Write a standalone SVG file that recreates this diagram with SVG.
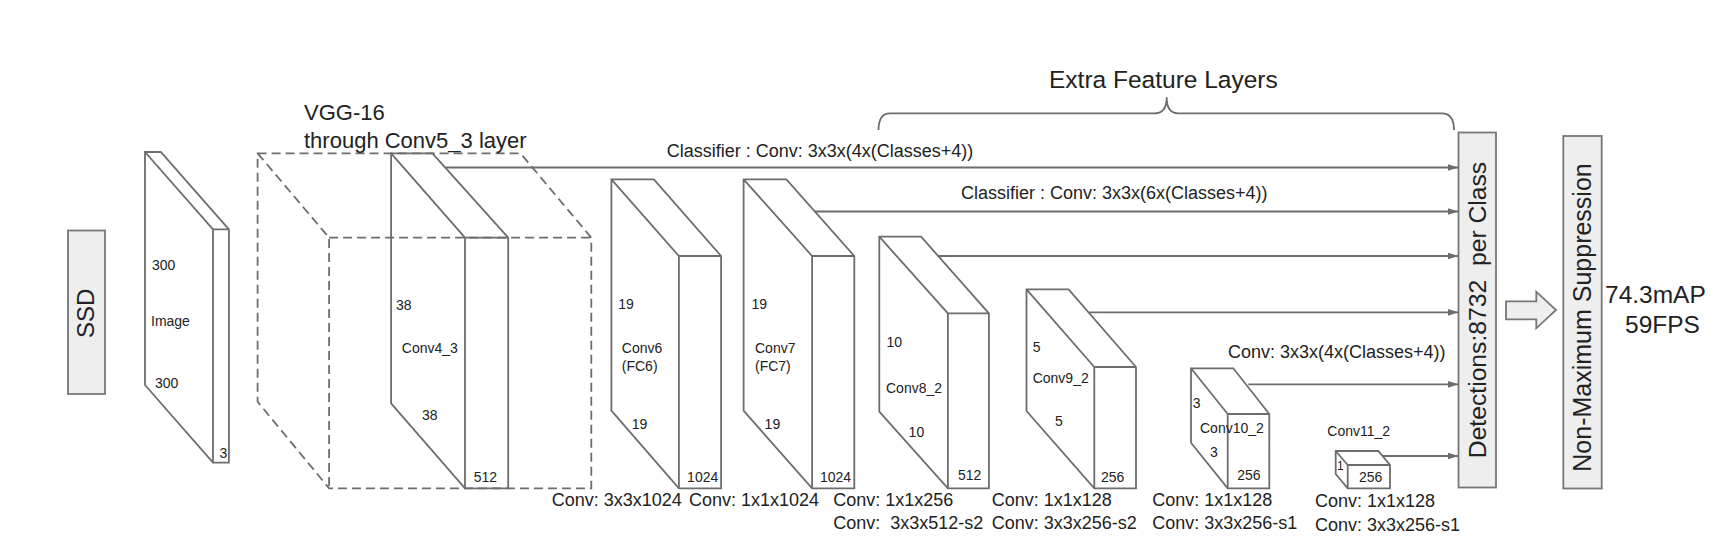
<svg xmlns="http://www.w3.org/2000/svg" width="1732" height="552" viewBox="0 0 1732 552">
<style>
.t{font-family:"Liberation Sans",Arial,sans-serif;fill:#222}
.s{font-size:14px}
.m{font-size:18px}
.l{font-size:22px}
.slab{fill:none;stroke:#6d6d6d;stroke-width:1.8;stroke-linejoin:miter}
.dash{fill:none;stroke:#6d6d6d;stroke-width:1.8;stroke-dasharray:9 5}
.box{fill:#eeeeee;stroke:#777;stroke-width:1.8}
.con{fill:none;stroke:#6d6d6d;stroke-width:1.8}
</style>
<defs>
<marker id="ah" markerWidth="11" markerHeight="8" refX="11" refY="4" orient="auto" markerUnits="userSpaceOnUse">
<path d="M0,0.5 L11,4 L0,7.5 z" fill="#6d6d6d"/>
</marker>
</defs>
<rect width="1732" height="552" fill="#fff"/>

<g id="ssd">
<rect class="box" x="68" y="230.5" width="37" height="163.5"/>
<text class="t" font-size="24" text-anchor="middle" transform="translate(93.5,313.3) rotate(-90)">SSD</text>
</g>

<g id="image">
<path class="slab" d="M145,152 H160.8 L228.9,229.3 V462.7 H213 L145,385 Z M145,152 L213,229.3 V462.7 M213,229.3 H228.9"/>
<text class="t s" x="152" y="270">300</text>
<text class="t s" x="151" y="326">Image</text>
<text class="t s" x="155" y="388">300</text>
<text class="t s" x="219.5" y="458">3</text>
</g>

<g id="vgg16">
<path class="dash" d="M257.6,153.3 H520.5 L591.3,237.7 V488.3 H329.1 L257.6,401.7 Z M257.6,153.3 L329.1,237.7 V488.3 M329.1,237.7 H591.3"/>
<text class="t l" x="304" y="120">VGG-16</text>
<text class="t l" x="304" y="147.5">through Conv5_3 layer</text>
</g>

<g id="conv4_3">
<path class="slab" d="M391.1,153.3 H432.5 L508.2,237.7 V488.3 H465 L391.1,403.3 Z M391.1,153.3 L465,237.7 V488.3 M465,237.7 H508.2"/>
<text class="t s" x="396" y="310">38</text>
<text class="t s" x="401.8" y="353">Conv4_3</text>
<text class="t s" x="422" y="420">38</text>
<text class="t s" x="473.8" y="481.7">512</text>
</g>

<g id="conv6">
<path class="slab" d="M611.4,179.3 H653.9 L721.1,256 V488.3 H678.9 L611.4,410.7 Z M611.4,179.3 L678.9,256 V488.3 M678.9,256 H721.1"/>
<text class="t s" x="618.2" y="309.3">19</text>
<text class="t s" x="621.8" y="353.3">Conv6</text>
<text class="t s" x="621.8" y="370.7">(FC6)</text>
<text class="t s" x="631.8" y="429.3">19</text>
<text class="t s" x="687.1" y="482.3">1024</text>
<text class="t m" x="551.7" y="506">Conv: 3x3x1024</text>
</g>

<g id="conv7">
<path class="slab" d="M743.6,179.3 H786.4 L854.3,256 V488.3 H812.1 L743.6,410.7 Z M743.6,179.3 L812.1,256 V488.3 M812.1,256 H854.3"/>
<text class="t s" x="751.4" y="309.3">19</text>
<text class="t s" x="755" y="353.3">Conv7</text>
<text class="t s" x="755" y="370.7">(FC7)</text>
<text class="t s" x="764.6" y="429.3">19</text>
<text class="t s" x="820" y="482.3">1024</text>
<text class="t m" x="689" y="506">Conv: 1x1x1024</text>
</g>

<g id="conv8_2">
<path class="slab" d="M879.3,236.7 H921.1 L988.9,313.3 V488.3 H947.9 L879.3,411.7 Z M879.3,236.7 L947.9,313.3 V488.3 M947.9,313.3 H988.9"/>
<text class="t s" x="886.4" y="347.3">10</text>
<text class="t s" x="886" y="393.3">Conv8_2</text>
<text class="t s" x="908.6" y="436.7">10</text>
<text class="t s" x="957.9" y="480">512</text>
<text class="t m" x="833.3" y="506">Conv: 1x1x256</text>
<text class="t m" x="833.3" y="529.3" xml:space="preserve">Conv:  3x3x512-s2</text>
</g>

<g id="conv9_2">
<path class="slab" d="M1026.5,289.3 H1068.6 L1136,367 V488.3 H1094.3 L1026.5,411 Z M1026.5,289.3 L1094.3,367 V488.3 M1094.3,367 H1136"/>
<text class="t s" x="1032.7" y="351.7">5</text>
<text class="t s" x="1032.7" y="383.3">Conv9_2</text>
<text class="t s" x="1055" y="425.7">5</text>
<text class="t s" x="1101" y="481.7">256</text>
<text class="t m" x="991.7" y="506">Conv: 1x1x128</text>
<text class="t m" x="991.7" y="529.3">Conv: 3x3x256-s2</text>
</g>

<g id="conv10_2">
<path class="slab" d="M1191,368.3 H1233.3 L1269.3,414 V488.3 H1227.7 L1191,442.7 Z M1191,368.3 L1227.7,414 V488.3 M1227.7,414 H1269.3"/>
<text class="t s" x="1192.7" y="407.7">3</text>
<text class="t s" x="1200" y="433.3">Conv10_2</text>
<text class="t s" x="1210" y="456.7">3</text>
<text class="t s" x="1237.3" y="480">256</text>
<text class="t m" x="1152.3" y="506">Conv: 1x1x128</text>
<text class="t m" x="1152.3" y="529.3">Conv: 3x3x256-s1</text>
</g>

<g id="conv11_2">
<path class="slab" d="M1335.7,451 H1378.3 L1390,465 V488.3 H1347.7 L1335.7,474 Z M1335.7,451 L1347.7,465 V488.3 M1347.7,465 H1390"/>
<text class="t s" x="1327.3" y="435.7">Conv11_2</text>
<text class="t" font-size="12" x="1337" y="470">1</text>
<text class="t s" x="1359" y="481.7">256</text>
<text class="t m" x="1315" y="507.3">Conv: 1x1x128</text>
<text class="t m" x="1315" y="530.7">Conv: 3x3x256-s1</text>
</g>

<g id="detections">
<rect class="box" x="1458.5" y="132.5" width="37.5" height="355"/>
<text class="t" font-size="24.7" text-anchor="middle" xml:space="preserve" transform="translate(1486,310) rotate(-90)">Detections:8732  per Class</text>
</g>

<g id="nms">
<rect class="box" x="1563.3" y="136" width="38.4" height="352.5"/>
<text class="t" font-size="25" text-anchor="middle" transform="translate(1591,317.5) rotate(-90)">Non-Maximum Suppression</text>
</g>

<g id="result">
<text class="t" font-size="24.5" x="1605" y="303.3">74.3mAP</text>
<text class="t" font-size="24.5" x="1625" y="333.3">59FPS</text>
</g>

<g id="extra-feature-layers">
<path class="con" d="M878.5,130 Q878.5,113.3 890,113.3 H1155 Q1166.7,113.3 1166.7,97.3 Q1166.7,113.3 1178,113.3 H1442 Q1454,113.3 1454,130"/>
<text class="t" font-size="24.5" x="1049" y="88.3">Extra Feature Layers</text>
</g>

<g id="connectors">
<line class="con" x1="445.5" y1="167.5" x2="1458.5" y2="167.5" marker-end="url(#ah)"/>
<line class="con" x1="815" y1="211.5" x2="1458.5" y2="211.5" marker-end="url(#ah)"/>
<line class="con" x1="938.5" y1="256" x2="1458.5" y2="256" marker-end="url(#ah)"/>
<line class="con" x1="1089" y1="312.3" x2="1458.5" y2="312.3" marker-end="url(#ah)"/>
<line class="con" x1="1248.3" y1="384.3" x2="1458.5" y2="384.3" marker-end="url(#ah)"/>
<line class="con" x1="1383" y1="456" x2="1458.5" y2="456" marker-end="url(#ah)"/>
<path class="box" d="M1506,301.3 H1536.3 V291.7 L1556,310 L1536.3,328.3 V319.3 H1506 Z"/>
<text class="t m" x="666.7" y="156.7">Classifier : Conv: 3x3x(4x(Classes+4))</text>
<text class="t m" x="961" y="198.5">Classifier : Conv: 3x3x(6x(Classes+4))</text>
<text class="t m" x="1228" y="358.3">Conv: 3x3x(4x(Classes+4))</text>
</g>
</svg>
